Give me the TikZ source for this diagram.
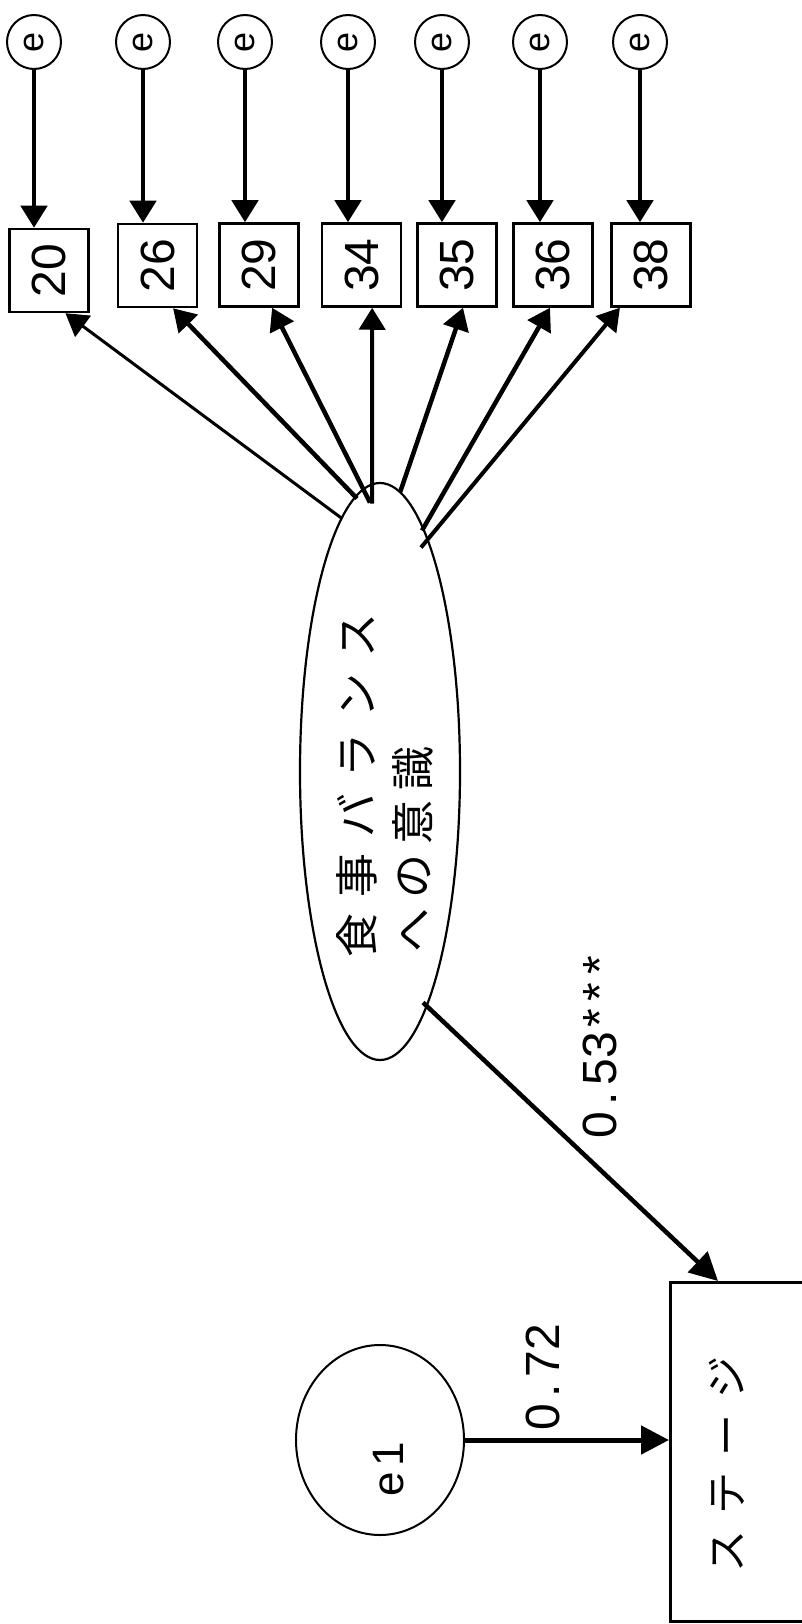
\documentclass[tikz,border=0pt]{standalone}
\usepackage{fontspec}
\setmainfont{Liberation Sans}
\newfontfamily\cjk{Noto Sans CJK JP}
\usetikzlibrary{arrows.meta,shapes.geometric,calc}
\newcommand{\lsp}{\kern16pt}
\newcommand{\lspb}{\kern10pt}
\newcommand{\cw}[1]{\makebox[0.556em]{#1}}
\begin{document}
\begin{tikzpicture}[x=1pt,y=-1pt,
  ecirc/.style={draw, line width=2pt, circle, minimum size=54pt, inner sep=0pt},
  etext/.style={rotate=90, inner sep=0pt, font=\fontsize{36}{36}\selectfont},
  obs/.style={draw, line width=2.5pt, rectangle, minimum width=79pt, minimum height=83pt, inner sep=0pt},
  num/.style={rotate=90, inner sep=0pt, font=\fontsize{48}{48}\selectfont},
  jtext/.style={rotate=90, inner sep=0pt, anchor=west, font=\cjk\fontsize{44}{44}\selectfont},
  arr/.style={line width=4.5pt, -{Triangle[length=22pt,width=26pt]}},
  bigarr/.style={line width=4.5pt, -{Triangle[length=28pt,width=28pt]}}
]
\useasboundingbox (0,0) rectangle (802,1624);
\clip (0,0) rectangle (802,1624);
\fill[white] (0,0) rectangle (802,1624);

% error circles
\node[ecirc, label={[etext]center:e}] (e20) at (34,42) {};
\node[ecirc, label={[etext]center:e}] (e26) at (143,42) {};
\node[ecirc, label={[etext]center:e}] (e29) at (245,42) {};
\node[ecirc, label={[etext]center:e}] (e34) at (348,42) {};
\node[ecirc, label={[etext]center:e}] (e35) at (442,42) {};
\node[ecirc, label={[etext]center:e}] (e36) at (540,42) {};
\node[ecirc, label={[etext]center:e}] (e38) at (640,42) {};

% observed boxes
\node[obs, label={[num]center:20}] (b20) at (49,270.5) {};
\node[obs, label={[num]center:26}] (b26) at (157.5,265.5) {};
\node[obs, label={[num]center:29}] (b29) at (259,265) {};
\node[obs, label={[num]center:34}] (b34) at (361.5,265) {};
\node[obs, label={[num]center:35}] (b35) at (457,265) {};
\node[obs, label={[num]center:36}] (b36) at (553,265) {};
\node[obs, label={[num]center:38}] (b38) at (651,265) {};

% e -> box arrows
\foreach \k in {20,26,29,34,35,36,38}{
  \draw[arr] (e\k.south) -- (e\k.south |- b\k.north);
}

% latent
\node[draw, ellipse, line width=2.2pt, minimum width=160pt, minimum height=577pt, inner sep=0pt] (lat) at (380,771.5) {};
\node[jtext] (l1) at (357,958) {食\lsp 事\lsp バ\lsp ラ\lsp ン\lsp ス};
\node[jtext] (l2) at (413,953) {へ\lspb の\lspb 意\lspb 識};

\path (lat.center) ++(-38,-253) coordinate (s20);
\path (lat.center) ++(-23,-273) coordinate (s26);
\path (lat.center) ++(-10,-269) coordinate (s29);
\path (lat.center) ++(-8,-268) coordinate (s34);
\path (lat.center) ++(20,-279) coordinate (s35);
\path (lat.center) ++(42,-241) coordinate (s36);
\path (lat.center) ++(41,-224) coordinate (s38);
\path (lat.center) ++(43,231) coordinate (s53);

\draw[arr, line width=3pt] (s20) -- (b20.-69);
\draw[arr] (s26) -- (b26.-70);
\draw[arr] (s29) -- (b29.-73);
\draw[arr, line width=4pt] (s34) -- (b34.-76);
\draw[arr] (s35) -- (b35.-82);
\draw[arr] (s36) -- (b36.-94);
\draw[arr, line width=4pt] (s38) -- (b38.-126);

% e1 and stage box
\node[draw, ellipse, line width=2pt, minimum width=168pt, minimum height=190pt, inner sep=0pt] (e1) at (380,1440) {};
\node[rotate=90, inner sep=0pt, font=\fontsize{44}{44}\selectfont] (e1t) at (389,1469) {e\kern6pt 1};
\node[draw, line width=2.5pt, minimum width=250pt, minimum height=339pt, anchor=north west, inner sep=0pt] (stg) at (669,1281) {};
\node[jtext, font=\cjk\fontsize{42}{42}\selectfont] (stgt) at (727,1573) {ス\lsp テ\lsp ー\lsp ジ};

\draw[bigarr] (s53) -- ($(stg.north west)+(49,0)$);
\draw[bigarr, line width=5pt] (e1.east) -- (e1.east -| stg.west);

\node[num] (l53) at (600,1045) {0\cw{.}53\cw{*}\cw{*}\cw{*}};
\node[num] (l72) at (543,1377) {0\cw{.}72};
\end{tikzpicture}
\end{document}
